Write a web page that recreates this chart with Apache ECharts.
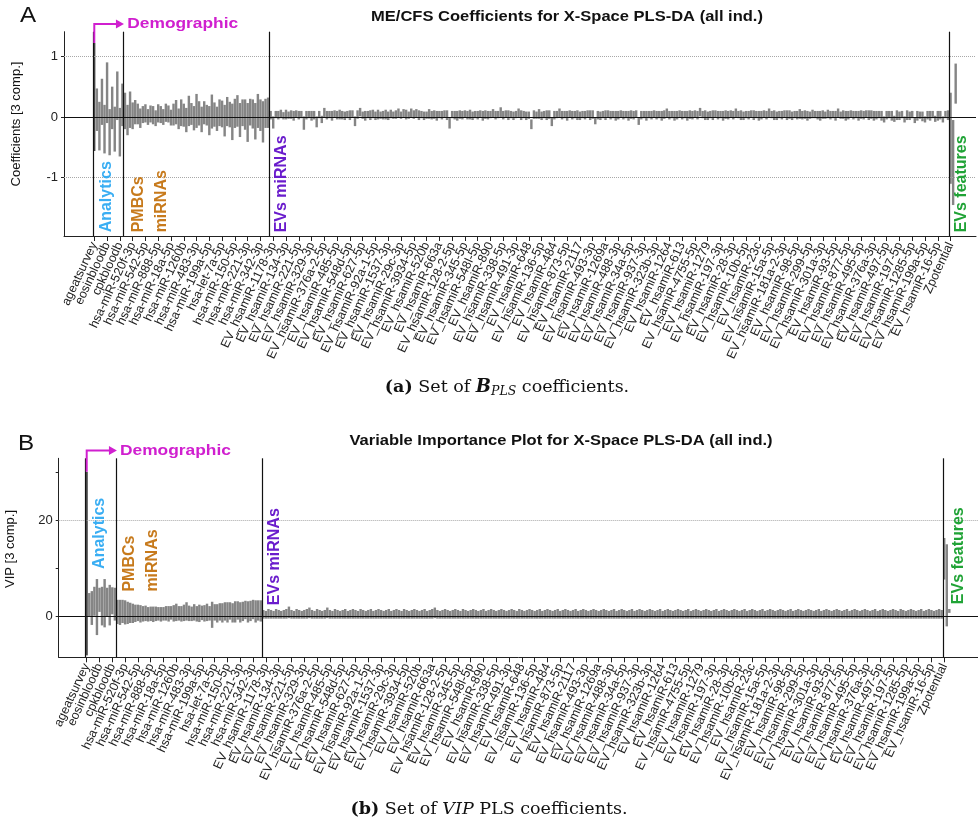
<!DOCTYPE html>
<html>
<head>
<meta charset="utf-8">
<script src="https://cdn.jsdelivr.net/npm/echarts@6/dist/echarts.min.js"></script>
<style>
  html, body { margin: 0; padding: 0; background: #fff; }
  #chart { width: 978px; height: 834px; }
</style>
</head>
<body>
<div id="chart"></div>
<script>
// ---------------------------------------------------------------------------
// Tick labels: every fifth variable along the x axis carries its name
// ---------------------------------------------------------------------------
const tickLabels = ['ageatsurvey','eosinbloodb','cpkbloodb','hsa-miR-520f-3p','hsa-miR-542-5p','hsa-miR-888-5p',
  'hsa-miR-18a-5p','hsa-miR-1260b','hsa-miR-483-3p','hsa-miR-199a-5p','hsa-let-7a-5p','hsa-miR-150-5p',
  'hsa-miR-221-3p','hsa-miR-342-3p','EV_hsamiR-1178-3p','EV_hsamiR-134-3p','EV_hsamiR-221-5p','EV_hsamiR-329-3p',
  'EV_hsamiR-376a-2-5p','EV_hsamiR-485-5p','EV_hsamiR-548d-5p','EV_hsamiR-627-5p','EV_hsamiR-92a-1-5p',
  'EV_hsamiR-1537-3p','EV_hsamiR-29c-3p','EV_hsamiR-3934-5p','EV_hsamiR-520b','EV_hsamiR-663a','EV_hsamiR-128-2-5p',
  'EV_hsamiR-345-5p','EV_hsamiR-548l-5p','EV_hsamiR-890','EV_hsamiR-338-5p','EV_hsamiR-491-3p','EV_hsamiR-648',
  'EV_hsamiR-136-5p','EV_hsamiR-484','EV_hsamiR-873-5p','EV_hsamiR-2117','EV_hsamiR-493-3p','EV_hsamiR-1269a',
  'EV_hsamiR-488-3p','EV_hsamiR-34a-5p','EV_hsamiR-937-3p','EV_hsamiR-323b-3p','EV_hsamiR-1264','EV_hsamiR-613',
  'EV_hsamiR-4755-5p','EV_hsamiR-1279','EV_hsamiR-197-3p','EV_hsamiR-28-3p','EV_hsamiR-10b-5p','EV_hsamiR-23c',
  'EV_hsamiR-15a-5p','EV_hsamiR-181a-2-3p','EV_hsamiR-98-5p','EV_hsamiR-299-5p','EV_hsamiR-301a-3p','EV_hsamiR-93-5p',
  'EV_hsamiR-877-5p','EV_hsamiR-495-5p','EV_hsamiR-376a-3p','EV_hsamiR-497-5p','EV_hsamiR-197-5p','EV_hsamiR-1285-5p',
  'EV_hsamiR-199a-5p','EV_hsamiR-16-5p','Zpotential'];

// ---------------------------------------------------------------------------
// PLS-DA regression coefficients (centre) and their jack-knife half-widths
// ---------------------------------------------------------------------------
const coefDemo = [0.33];
const coefDemoErr = [0.89];

const coefAnalytics = [0.12,-0.15,0.25,-0.2,0.4,-0.25,0.15,-0.2,0.35,-0.25,0.2];
const coefAnalyticsErr = [0.35,0.4,0.38,0.4,0.5,0.38,0.35,0.37,0.4,0.4,0.35];

const coefPMBC = [
  0.1,-0.05,0.12,0.02,0.08,0.05,-0.02,0.04,0.06,0.0,0.05,0.03,-0.02,0.06,0.04,0.0,0.07,0.05,-0.01,
  0.04,0.08,-0.03,0.07,0.03,-0.05,0.1,0.05,-0.02,0.1,0.06,-0.04,0.07,0.03,-0.06,0.09,0.04,-0.03,0.07,
  0.05,-0.06,0.09,0.04,-0.08,0.06,0.1,-0.05,0.07,0.04,-0.09,0.08,0.05,-0.07,0.1,0.03,-0.08,0.06,0.07];
const coefPMBCErr = [
  0.3,0.25,0.3,0.22,0.2,0.17,0.16,0.14,0.15,0.13,0.14,0.15,0.13,0.15,0.14,0.13,0.15,0.14,0.13,
  0.18,0.2,0.17,0.22,0.19,0.2,0.25,0.18,0.2,0.28,0.2,0.21,0.19,0.17,0.24,0.28,0.2,0.2,0.22,
  0.22,0.26,0.24,0.21,0.3,0.24,0.26,0.28,0.22,0.25,0.32,0.22,0.24,0.3,0.28,0.26,0.34,0.24,0.25];

const coefEV = [
  0.03,-0.09,0.04,0.03,0.05,0.02,0.04,0.03,0.04,0.02,0.05,0.03,0.04,-0.1,0.03,0.04,0.02,0.03,-0.08,
  0.04,-0.04,0.07,0.03,0.04,0.02,0.05,0.03,0.04,0.03,0.02,0.04,0.03,0.05,-0.07,0.04,0.08,0.03,0.02,
  0.04,0.03,0.05,0.02,0.04,0.03,0.03,0.04,0.02,0.05,0.03,0.04,0.07,0.03,0.06,0.04,0.03,0.07,0.04,
  0.06,0.03,0.04,0.02,0.03,0.05,0.03,0.04,0.02,0.04,0.03,0.05,0.03,-0.1,0.04,0.03,0.02,0.04,0.03,
  0.05,0.03,0.04,0.02,0.04,0.03,0.05,0.02,0.04,0.03,0.04,0.06,0.03,0.04,0.08,0.03,0.05,0.03,0.04,
  0.02,0.04,0.07,0.03,0.04,0.02,0.03,-0.12,0.04,0.03,0.05,0.02,0.04,0.03,0.04,-0.08,0.03,0.04,0.07,
  0.03,0.04,0.02,0.05,0.03,0.04,0.03,0.02,0.04,0.03,0.05,0.03,0.04,-0.06,0.03,0.02,0.04,0.03,0.05,
  0.03,0.04,0.02,0.03,0.05,0.03,0.04,0.02,0.04,0.03,0.05,-0.07,0.03,0.04,0.02,0.04,0.03,0.05,0.03,
  0.04,0.02,0.04,0.07,0.03,0.04,0.02,0.03,0.05,0.03,0.04,0.02,0.04,0.03,0.05,0.03,0.08,0.04,0.03,
  0.02,0.04,0.03,0.05,0.03,0.04,0.02,0.04,0.03,0.05,0.03,0.07,0.04,0.03,0.02,0.04,0.03,0.05,0.03,
  0.04,0.02,0.03,0.05,0.03,0.07,0.04,0.03,0.02,0.04,0.03,0.05,0.03,0.04,0.02,0.04,0.03,0.05,0.03,
  0.04,0.02,0.03,0.05,0.04,0.03,0.02,0.04,0.03,0.05,0.03,0.04,0.02,0.07,0.03,0.04,0.02,0.03,0.05,
  0.03,0.04,0.02,0.04,0.03,0.05,0.03,0.04,0.02,0.03,0.04,0.02,-0.04,0.03,0.04,0.02,-0.03,0.03,0.02,
  0.04,-0.04,0.03,0.02,0.04,-0.05,0.02,0.03,0.01,-0.04,0.03,0.02,0.04,-0.03,0.02,0.03,-0.04,0.04,0.03];
const coefEVErr = [
  0.07,0.1,0.06,0.07,0.07,0.06,0.08,0.06,0.07,0.08,0.06,0.07,0.06,0.11,0.07,0.06,0.08,0.07,0.09,
  0.06,0.06,0.08,0.07,0.06,0.08,0.06,0.07,0.08,0.07,0.07,0.06,0.08,0.06,0.08,0.07,0.07,0.06,0.08,
  0.06,0.08,0.07,0.07,0.08,0.06,0.07,0.08,0.07,0.07,0.06,0.07,0.07,0.06,0.07,0.08,0.06,0.07,0.07,
  0.07,0.08,0.06,0.07,0.06,0.08,0.07,0.07,0.08,0.06,0.07,0.06,0.08,0.09,0.06,0.07,0.08,0.07,0.07,
  0.06,0.07,0.08,0.07,0.06,0.07,0.06,0.08,0.07,0.07,0.06,0.07,0.07,0.06,0.08,0.07,0.06,0.08,0.06,
  0.07,0.06,0.07,0.08,0.06,0.07,0.06,0.08,0.07,0.06,0.08,0.07,0.06,0.08,0.07,0.07,0.07,0.06,0.07,
  0.07,0.06,0.08,0.06,0.07,0.06,0.08,0.07,0.06,0.07,0.06,0.08,0.07,0.06,0.07,0.07,0.06,0.08,0.06,
  0.07,0.06,0.08,0.07,0.06,0.07,0.06,0.08,0.07,0.07,0.06,0.06,0.07,0.06,0.08,0.06,0.07,0.06,0.07,
  0.06,0.08,0.07,0.07,0.07,0.06,0.08,0.07,0.06,0.07,0.06,0.08,0.07,0.07,0.06,0.07,0.07,0.06,0.08,
  0.07,0.06,0.08,0.06,0.07,0.06,0.08,0.07,0.07,0.06,0.07,0.07,0.06,0.08,0.07,0.06,0.07,0.06,0.08,
  0.06,0.08,0.07,0.06,0.07,0.07,0.06,0.08,0.07,0.06,0.07,0.06,0.08,0.07,0.07,0.06,0.07,0.08,0.07,
  0.07,0.08,0.06,0.07,0.06,0.07,0.08,0.07,0.06,0.07,0.07,0.06,0.08,0.07,0.06,0.07,0.08,0.07,0.06,
  0.07,0.06,0.08,0.07,0.07,0.06,0.08,0.07,0.08,0.07,0.06,0.08,0.05,0.07,0.06,0.08,0.05,0.08,0.07,
  0.06,0.05,0.08,0.07,0.06,0.05,0.08,0.06,0.08,0.05,0.07,0.08,0.06,0.05,0.08,0.07,0.05,0.06,0.08];

const coefFeat = [-0.35,-0.75,0.55];
const coefFeatErr = [0.75,0.7,0.33];

// ---------------------------------------------------------------------------
// Variable importance in projection (centre) and half-widths
// ---------------------------------------------------------------------------
const vipDemo = [11];
const vipDemoErr = [19];

const vipAnalytics = [2.5,1.8,3.2,2.0,3.5,2.2,2.8,3.0,2.4,3.3,2.6];
const vipAnalyticsErr = [2.4,3.5,3.0,5.8,2.5,4.0,5.0,3.0,4.2,2.8,3.4];

const vipPMBC = [
  1.0,0.9,1.1,0.9,0.8,0.8,0.7,0.7,0.8,0.6,0.6,0.7,0.5,0.6,0.5,0.6,0.6,0.5,0.6,
  0.7,0.6,0.8,0.7,0.9,0.7,0.6,0.8,1.1,0.7,0.6,0.9,0.6,0.7,0.8,0.7,0.9,0.7,0.4,
  0.9,0.7,1.0,0.8,1.1,0.9,1.2,0.8,1.0,1.3,0.9,1.1,1.4,1.0,1.2,1.5,1.1,1.3,1.2];
const vipPMBCErr = [
  2.5,2.6,2.4,2.5,2.3,2.1,2.0,1.8,1.7,1.8,1.6,1.6,1.5,1.5,1.6,1.5,1.4,1.5,1.4,
  1.5,1.6,1.4,1.7,1.8,1.5,1.6,1.7,1.9,1.6,1.5,1.7,1.6,1.8,1.5,1.7,1.8,1.5,2.7,
  1.7,1.9,1.8,2.0,1.9,2.1,1.8,2.0,2.2,1.9,2.1,2.0,1.9,2.2,2.1,2.0,2.3,2.1,2.2];

const vipEV = [
  0.5,0.4,0.6,0.5,0.4,0.6,0.5,0.4,0.5,0.6,0.9,0.5,0.4,0.6,0.5,0.4,0.5,0.6,0.8,
  0.5,0.4,0.6,0.5,0.4,0.5,0.8,0.5,0.4,0.6,0.5,0.4,0.5,0.6,0.4,0.5,0.6,0.5,0.4,
  0.6,0.5,0.4,0.5,0.6,0.4,0.5,0.6,0.5,0.4,0.5,0.6,0.4,0.5,0.6,0.5,0.4,0.6,0.5,
  0.4,0.5,0.6,0.5,0.4,0.5,0.6,0.4,0.5,0.6,0.8,0.5,0.4,0.5,0.6,0.5,0.4,0.5,0.6,
  0.5,0.4,0.6,0.5,0.4,0.5,0.6,0.5,0.4,0.5,0.6,0.4,0.5,0.6,0.5,0.4,0.5,0.6,0.5,
  0.4,0.5,0.6,0.5,0.4,0.6,0.5,0.4,0.5,0.6,0.5,0.4,0.5,0.6,0.4,0.5,0.6,0.5,0.4,
  0.5,0.6,0.4,0.5,0.6,0.5,0.4,0.5,0.6,0.4,0.5,0.6,0.5,0.4,0.5,0.6,0.5,0.4,0.5,
  0.6,0.5,0.4,0.5,0.6,0.4,0.5,0.6,0.5,0.4,0.5,0.6,0.4,0.5,0.6,0.5,0.4,0.5,0.6,
  0.5,0.4,0.5,0.6,0.4,0.5,0.6,0.5,0.4,0.5,0.6,0.5,0.4,0.5,0.6,0.4,0.5,0.6,0.5,
  0.4,0.5,0.6,0.5,0.4,0.5,0.6,0.4,0.5,0.6,0.5,0.4,0.5,0.6,0.5,0.4,0.5,0.6,0.4,
  0.5,0.6,0.5,0.4,0.5,0.6,0.4,0.5,0.6,0.5,0.4,0.5,0.6,0.5,0.4,0.5,0.6,0.4,0.5,
  0.6,0.5,0.4,0.5,0.6,0.5,0.4,0.5,0.6,0.4,0.5,0.6,0.5,0.4,0.5,0.6,0.5,0.4,0.5,
  0.6,0.4,0.5,0.6,0.5,0.4,0.5,0.6,0.5,0.4,0.5,0.6,0.4,0.5,0.6,0.5,0.4,0.5,0.6,
  0.5,0.4,0.6,0.5,0.4,0.5,0.6,0.5,0.4,0.5,0.6,0.4,0.5,0.6,0.5,0.4,0.5,0.6,0.5];
const vipEVErr = [
  0.9,0.8,1.0,0.9,0.8,1.0,0.9,0.8,0.9,1.0,1.2,0.9,0.8,1.0,0.9,0.8,0.9,1.0,1.1,
  0.9,0.8,1.0,0.9,0.8,0.9,1.1,0.9,0.8,1.0,0.9,0.8,0.9,1.0,0.8,0.9,1.0,0.9,0.8,
  1.0,0.9,0.8,0.9,1.0,0.8,0.9,1.0,0.9,0.8,0.9,1.0,0.8,0.9,1.0,0.9,0.8,1.0,0.9,
  0.8,0.9,1.0,0.9,0.8,0.9,1.0,0.8,0.9,1.0,1.1,0.9,0.8,0.9,1.0,0.9,0.8,0.9,1.0,
  0.9,0.8,1.0,0.9,0.8,0.9,1.0,0.9,0.8,0.9,1.0,0.8,0.9,1.0,0.9,0.8,0.9,1.0,0.9,
  0.8,0.9,1.0,0.9,0.8,1.0,0.9,0.8,0.9,1.0,0.9,0.8,0.9,1.0,0.8,0.9,1.0,0.9,0.8,
  0.9,1.0,0.8,0.9,1.0,0.9,0.8,0.9,1.0,0.8,0.9,1.0,0.9,0.8,0.9,1.0,0.9,0.8,0.9,
  1.0,0.9,0.8,0.9,1.0,0.8,0.9,1.0,0.9,0.8,0.9,1.0,0.8,0.9,1.0,0.9,0.8,0.9,1.0,
  0.9,0.8,0.9,1.0,0.8,0.9,1.0,0.9,0.8,0.9,1.0,0.9,0.8,0.9,1.0,0.8,0.9,1.0,0.9,
  0.8,0.9,1.0,0.9,0.8,0.9,1.0,0.8,0.9,1.0,0.9,0.8,0.9,1.0,0.9,0.8,0.9,1.0,0.8,
  0.9,1.0,0.9,0.8,0.9,1.0,0.8,0.9,1.0,0.9,0.8,0.9,1.0,0.9,0.8,0.9,1.0,0.8,0.9,
  1.0,0.9,0.8,0.9,1.0,0.9,0.8,0.9,1.0,0.8,0.9,1.0,0.9,0.8,0.9,1.0,0.9,0.8,0.9,
  1.0,0.8,0.9,1.0,0.9,0.8,0.9,1.0,0.9,0.8,0.9,1.0,0.8,0.9,1.0,0.9,0.8,0.9,1.0,
  0.9,0.8,1.0,0.9,0.8,0.9,1.0,0.9,0.8,0.9,1.0,0.8,0.9,1.0,0.9,0.8,0.9,1.0,0.9];

const vipFeat = [12,6.5,1.2];
const vipFeatErr = [4.3,8.5,0.4];

// Group captions drawn inside the plots
const groupTexts = ['Analytics', 'PMBCs\nmiRNAs', 'EVs miRNAs', 'EVs features'];
const demographicText = 'Demographic';

// ---------------------------------------------------------------------------
// Styling and layout
// ---------------------------------------------------------------------------
const SANS = '"Liberation Sans", Arial, sans-serif';
const SERIF = '"DejaVu Serif", serif';
const BAR = '#858585';
const AXIS = '#222';
const groupColors = ['#3aaef3', '#c77a1c', '#6a1ccc', '#20a336'];
const demoColor = '#d01fcf';
const labelStep = 5;
const tickPositions = tickLabels.map((_, i) => i * labelStep);

function rowsFrom(groups) {
  const rows = [];
  groups.forEach(([vals, errs]) => vals.forEach((v, k) => rows.push([rows.length, v, errs[k]])));
  return rows;
}
function groupStarts(groups) {
  const starts = []; let n = 0;
  groups.forEach(([vals]) => { starts.push(n); n += vals.length; });
  return starts;
}

const coefGroups = [[coefDemo, coefDemoErr], [coefAnalytics, coefAnalyticsErr], [coefPMBC, coefPMBCErr],
                    [coefEV, coefEVErr], [coefFeat, coefFeatErr]];
const vipGroups = [[vipDemo, vipDemoErr], [vipAnalytics, vipAnalyticsErr], [vipPMBC, vipPMBCErr],
                   [vipEV, vipEVErr], [vipFeat, vipFeatErr]];

const panels = [
  {
    rows: rowsFrom(coefGroups), starts: groupStarts(coefGroups),
    grid: { left: 64, top: 31.7, width: 912, height: 204.3 },
    x: [-11.85, 344.95], y: [-1.96, 1.405],
    yLabels: [-1, 0, 1], yTicks: [-1, 0, 1], dotted: [-1, 1],
    labelAt: [[4.9, -1.9], [21.7, -1.9], [73.3, -1.9], [339.3, -1.9]],
    arrow: { y: 1.532, tip: 11.6, text: 12.9 }
  },
  {
    rows: rowsFrom(vipGroups), starts: groupStarts(vipGroups),
    grid: { left: 58.7, top: 458.3, width: 919.3, height: 199 },
    x: [-10.94, 348.2], y: [-8.4, 32.8],
    yLabels: [0, 20], yTicks: [0, 10, 20, 30], dotted: [20],
    labelAt: [[5.2, 9.9], [21.4, 5.2], [73.3, 2.4], [340.5, 2.6]],
    arrow: { y: 34.4, tip: 11.8, text: 13 }
  }
];

// Each variable is a gray interval box spanning centre ± half-width
function intervalRenderer(yMin, yMax) {
  return function (params, api) {
    const x = api.value(0), v = api.value(1), e = api.value(2);
    const clamp = t => Math.min(yMax, Math.max(yMin, t));
    const unit = api.size([1, 0])[0];
    const lo = api.coord([x, clamp(v - e)]);
    const hi = api.coord([x, clamp(v + e)]);
    const lead = params.dataIndex === 0;
    const w = lead ? 2.2 : unit * 0.95;
    return {
      type: 'rect',
      shape: { x: lo[0] - w / 2, y: hi[1], width: w, height: Math.max(0.8, lo[1] - hi[1]) },
      style: { fill: lead ? '#4a4a4a' : BAR }
    };
  };
}

function annotationRenderer(panel) {
  return function (params, api) {
    const i = params.dataIndex;
    if (i < groupTexts.length) {
      const p = api.coord(panel.labelAt[i]);
      return {
        type: 'text', x: p[0], y: p[1], rotation: Math.PI / 2,
        style: { text: groupTexts[i], fill: groupColors[i], fontFamily: SANS, fontWeight: 'bold',
                 fontSize: 16, align: 'left', verticalAlign: 'middle', lineHeight: 23 }
      };
    }
    // Demographic: elbow arrow rising from the top of the first variable's interval
    const first = panel.rows[0];
    const start = api.coord([first[0], first[1] + first[2]]);
    const corner = api.coord([first[0], panel.arrow.y]);
    const tip = api.coord([panel.arrow.tip, panel.arrow.y]);
    const txt = api.coord([panel.arrow.text, panel.arrow.y]);
    return {
      type: 'group',
      children: [
        { type: 'polyline', shape: { points: [start, corner, [tip[0] - 6, tip[1]]] },
          style: { stroke: demoColor, lineWidth: 2, fill: null } },
        { type: 'polygon', shape: { points: [[tip[0] - 8, tip[1] - 4.5], [tip[0], tip[1]], [tip[0] - 8, tip[1] + 4.5]] },
          style: { fill: demoColor } },
        { type: 'text', x: txt[0], y: txt[1], scaleX: 1.12,
          style: { text: demographicText, fill: demoColor, fontFamily: SANS, fontWeight: 'bold', fontSize: 15.5,
                   align: 'left', verticalAlign: 'middle' } }
      ]
    };
  };
}

const option = {
  animation: false,
  backgroundColor: '#fff',
  textStyle: { fontFamily: SANS },
  grid: panels.map(p => Object.assign({ containLabel: false, outerBoundsMode: 'none' }, p.grid)),
  xAxis: panels.map((p, k) => ({
    type: 'value', gridIndex: k, min: p.x[0], max: p.x[1],
    axisLine: { show: true, onZero: false, lineStyle: { color: AXIS, width: 1 } },
    axisTick: { show: true, customValues: tickPositions, length: 5, lineStyle: { color: AXIS } },
    // blank slots at both ends keep the axis from dropping the names next to the first/last tick
    axisLabel: { show: true, customValues: [-10, ...tickPositions, 343], rotate: 65, fontSize: 12.5,
                 color: AXIS, margin: 7, showMinLabel: true, showMaxLabel: true, hideOverlap: false,
                 fontFamily: SANS,
                 formatter: v => (v >= 0 && v % labelStep === 0 && v / labelStep < tickLabels.length
                                  ? tickLabels[v / labelStep] : ' ') },
    splitLine: { show: false }
  })),
  yAxis: panels.map((p, k) => ({
    type: 'value', gridIndex: k, min: p.y[0], max: p.y[1],
    axisLine: { show: true, onZero: false, lineStyle: { color: AXIS, width: 1 } },
    axisTick: { show: true, customValues: p.yTicks, length: 3, lineStyle: { color: AXIS } },
    axisLabel: { show: true, customValues: p.yLabels, fontSize: 13, color: AXIS, margin: 6, fontFamily: SANS },
    splitLine: { show: false }
  })),
  series: [],
  graphic: [
    { type: 'text', x: 20, y: 16, scaleX: 1.1, style: { text: 'A', font: '22px ' + SANS, fill: '#111', verticalAlign: 'middle' } },
    { type: 'text', x: 18, y: 444, scaleX: 1.1, style: { text: 'B', font: '22px ' + SANS, fill: '#111', verticalAlign: 'middle' } },
    { type: 'text', x: 567, y: 17, scaleX: 1.18,
      style: { text: 'ME/CFS Coefficients for X-Space PLS-DA (all ind.)', font: 'bold 14px ' + SANS, fill: '#111',
               align: 'center', verticalAlign: 'middle' } },
    { type: 'text', x: 561, y: 441, scaleX: 1.18,
      style: { text: 'Variable Importance Plot for X-Space PLS-DA (all ind.)', font: 'bold 14px ' + SANS, fill: '#111',
               align: 'center', verticalAlign: 'middle' } },
    { type: 'text', x: 16, y: 124, rotation: Math.PI / 2,
      style: { text: 'Coefficients [3 comp.]', font: '13px ' + SANS, fill: '#111', align: 'center', verticalAlign: 'middle' } },
    { type: 'text', x: 10, y: 549, rotation: Math.PI / 2,
      style: { text: 'VIP [3 comp.]', font: '13px ' + SANS, fill: '#111', align: 'center', verticalAlign: 'middle' } },
    { type: 'text', x: 507, y: 387,
      style: { text: '{b|(a)} Set of {bi|B}{sub|PLS} coefficients.', font: '17.5px ' + SERIF, fill: '#111',
               align: 'center', verticalAlign: 'middle',
               rich: { b: { fontWeight: 'bold', fontSize: 17.5, fontFamily: SERIF },
                       bi: { fontWeight: 'bold', fontStyle: 'italic', fontSize: 18, fontFamily: SERIF },
                       sub: { fontStyle: 'italic', fontSize: 12.5, fontFamily: SERIF, padding: [10, 0, 0, 0] } } } },
    { type: 'text', x: 489, y: 809,
      style: { text: '{b|(b)} Set of {i|VIP} PLS coefficients.', font: '17.5px ' + SERIF, fill: '#111',
               align: 'center', verticalAlign: 'middle',
               rich: { b: { fontWeight: 'bold', fontSize: 17.5, fontFamily: SERIF },
                       i: { fontStyle: 'italic', fontSize: 17.5, fontFamily: SERIF } } } }
  ]
};

panels.forEach((p, k) => {
  // group boundaries sit half a slot before the first variable of each block
  const sep = [p.starts[0], p.starts[2], p.starts[3], p.starts[4]].map(s => s - 0.5);
  option.series.push({
    type: 'custom', xAxisIndex: k, yAxisIndex: k,
    renderItem: intervalRenderer(p.y[0], p.y[1]),
    encode: { x: 0, y: 1 },
    data: p.rows,
    markLine: {
      silent: true, symbol: 'none', animation: false, label: { show: false },
      data: [
        ...p.dotted.map(v => ({ yAxis: v, lineStyle: { type: 'dotted', color: '#a8a8a8', width: 1 } })),
        { yAxis: 0, lineStyle: { type: 'solid', color: '#111', width: 1.2 } },
        ...sep.map(v => ({ xAxis: v, lineStyle: { type: 'solid', color: '#111', width: 1.2 } }))
      ]
    }
  });
  option.series.push({
    type: 'custom', xAxisIndex: k, yAxisIndex: k, z: 10,
    renderItem: annotationRenderer(p),
    data: [0, 1, 2, 3, 4].map(i => [i])
  });
});

const chart = echarts.init(document.getElementById('chart'), null, { renderer: 'canvas' });
chart.setOption(option);
</script>
</body>
</html>
